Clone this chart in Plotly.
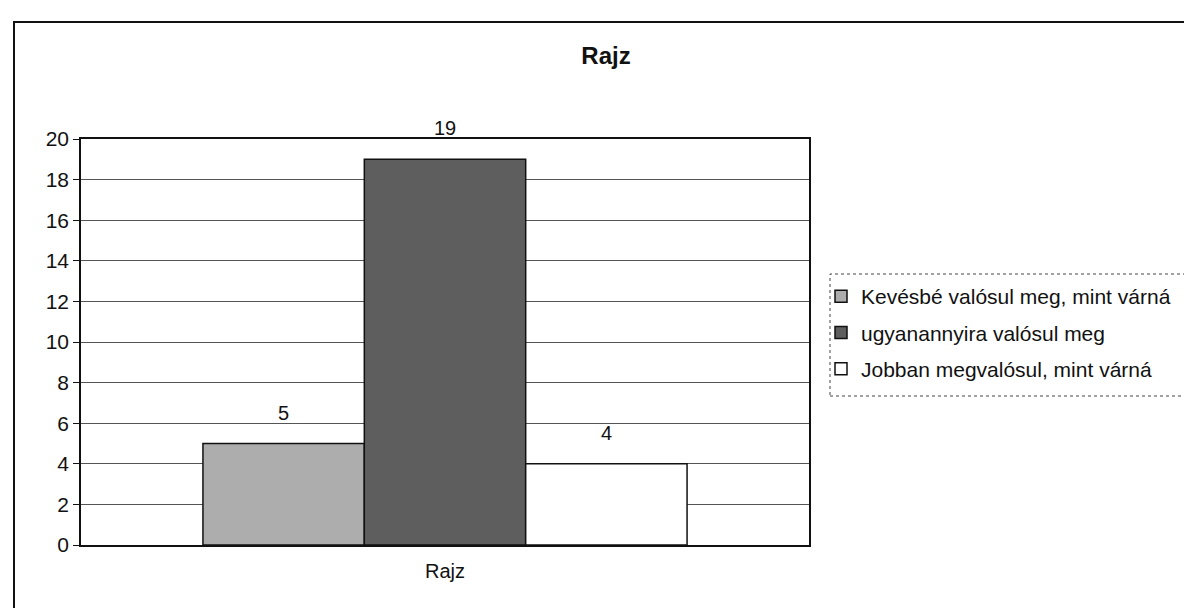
import plotly.graph_objects as go

# ---- data ----
categories = ["Rajz"]
series_names = [
    "Kevésbé valósul meg, mint várná",
    "ugyanannyira valósul meg",
    "Jobban megvalósul, mint várná",
]
series_values = [[5], [19], [4]]
series_colors = ["#adadad", "#5e5e5e", "#ffffff"]
y_ticks = [0, 2, 4, 6, 8, 10, 12, 14, 16, 18, 20]
title_text = "Rajz"

FONT = "Liberation Sans, Arial, sans-serif"
W, H = 1192, 608
L, R, T, B = 73, 391, 131, 71
pw = W - L - R
ph = H - T - B

def px_x(px):
    return (px - L) / pw

def px_y(py):
    return (H - B - py) / ph

bargap = 0.335
fig = go.Figure()
for k, (name, vals, col) in enumerate(zip(series_names, series_values, series_colors)):
    fig.add_trace(go.Bar(
        x=categories, y=vals, name=name, legendgroup="g%d" % k,
        marker=dict(color=col, line=dict(color="#111111", width=1.5)),
    ))

# value labels above the bars
n = len(series_values)
bw = (1 - bargap) / n
for i, vals in enumerate(series_values):
    for j, v in enumerate(vals):
        fig.add_annotation(
            x=j + (i - (n - 1) / 2) * bw, y=v, xref="x", yref="y",
            text=str(v), showarrow=False, yanchor="middle", yshift=31,
            font=dict(family=FONT, size=20, color="#111111"),
        )

shapes = [
    # outer chart border
    dict(type="rect", xref="paper", yref="paper",
         x0=px_x(6), x1=px_x(1185), y0=px_y(605), y1=px_y(14),
         line=dict(color="#111111", width=2), layer="below"),
    # legend border (dotted)
    dict(type="rect", xref="paper", yref="paper",
         x0=px_x(822), x1=px_x(1182), y0=px_y(388), y1=px_y(266),
         line=dict(color="#444444", width=1, dash="dot"), layer="below"),
]

fig.update_layout(
    width=W, height=H,
    margin=dict(l=L, r=R, t=T, b=B),
    paper_bgcolor="white", plot_bgcolor="white",
    barmode="group", bargap=bargap, bargroupgap=0,
    font=dict(family=FONT, size=20, color="#111111"),
    title=dict(text="<b>" + title_text + "</b>", x=598 / W, xanchor="center",
               y=1 - 48 / H, yanchor="middle", yref="container",
               font=dict(family=FONT, size=24, color="#111111")),
    showlegend=True,
    legend=dict(x=px_x(813), y=px_y(268), xanchor="left", yanchor="top",
                bgcolor="rgba(0,0,0,0)", borderwidth=0,
                font=dict(family=FONT, size=21, color="#111111"),
                itemwidth=30, traceorder="grouped", tracegroupgap=6),
    shapes=shapes,
)
fig.update_xaxes(
    showgrid=False, showline=True, linecolor="#111111", linewidth=1.5,
    mirror=True, ticks="", ticklabelstandoff=7,
    tickfont=dict(family=FONT, size=20, color="#111111"),
)
fig.update_yaxes(
    range=[0, 20], tickvals=y_ticks, ticktext=[str(t) for t in y_ticks],
    showgrid=True, gridcolor="#555555", gridwidth=1,
    showline=True, linecolor="#111111", linewidth=1.5, mirror=True,
    ticks="outside", ticklen=6, tickcolor="#111111",
    tickfont=dict(family=FONT, size=21, color="#111111"),
    zeroline=False,
)

fig.write_html("out.html")
